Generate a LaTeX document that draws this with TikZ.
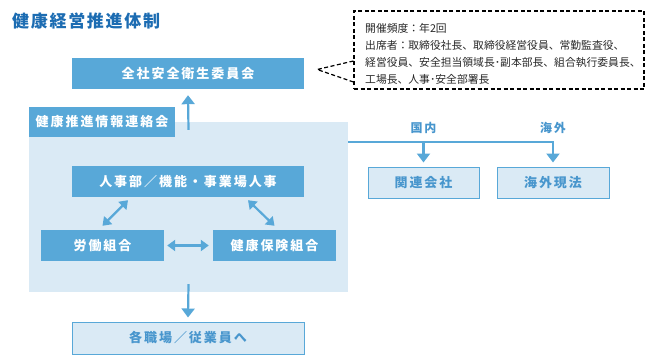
\documentclass[tikz,border=0pt]{standalone}
\usepackage{fontspec}
\setmainfont{Noto Sans CJK JP}
\newfontfamily\boxfont{Noto Sans CJK JP}[LetterSpace=15]
\newfontfamily\titlefont{Noto Sans CJK JP}[LetterSpace=10]
\usetikzlibrary{arrows.meta,calc,positioning}
\definecolor{boxblue}{RGB}{88,168,216}
\definecolor{paleblue}{RGB}{218,234,245}
\definecolor{titleblue}{RGB}{28,108,178}
\definecolor{textblue}{RGB}{72,150,205}
\definecolor{notegray}{RGB}{40,40,40}

\begin{document}
\begin{tikzpicture}[
      x=1pt, y=-1pt,
      heading/.style={anchor=west, inner sep=0pt, text=titleblue,
        font=\titlefont\bfseries\fontsize{17}{17}\selectfont},
      org/.style={fill=boxblue, text=white, inner sep=0pt,
        minimum height=31pt,
        font=\boxfont\bfseries\fontsize{13}{13}\selectfont},
      unit/.style={org, fill=paleblue, draw=boxblue, line width=1pt,
        text=textblue},
      region/.style={fill=paleblue, inner sep=0pt},
      tag/.style={inner sep=1pt, text=textblue,
        font=\boxfont\bfseries\fontsize{12}{12}\selectfont},
      dashline/.style={draw=black, line width=1.2pt,
        dash pattern=on 4pt off 2.5pt},
      note/.style={dashline, inner sep=0pt,
        minimum width=290pt, minimum height=78pt},
      notetext/.style={anchor=north west, inner sep=0pt, align=left,
        text=notegray, font=\fontsize{10.8}{17}\selectfont},
      arr/.style={draw=boxblue, line width=2.2pt,
        -{Triangle[width=13pt,length=9pt]}},
      both/.style={draw=boxblue, line width=2.2pt,
        {Triangle[width=11pt,length=8pt]}-{Triangle[width=11pt,length=8pt]}}
    ]
    \useasboundingbox (0,0) rectangle (645,356);

    \node[heading] (title) at (12,21) {健康経営推進体制};

    % committee and liaison group
    \node[org, minimum width=232pt] (committee) at (188,73.5)
      {全社安全衛生委員会};
    \node[region, minimum width=319pt, minimum height=170pt] (liaison)
      at (188.5,207) {};
    \node[org, minimum width=146pt, minimum height=30pt] (liaisontag)
      at (102,122) {健康推進情報連絡会};
    \node[org, minimum width=232pt] (hr) at (188,181.5)
      {人事部／機能・事業場人事};
    \node[org, minimum width=123pt] (union) at (102.5,245.5) {労働組合};
    \node[org, minimum width=123pt] (insurer) at (274.5,245.5)
      {健康保険組合};
    \node[unit, minimum width=232pt, minimum height=32pt] (workplace)
      at (188,338) {各職場／従業員へ};
    \node[unit, minimum width=111pt] (domestic) at (423.5,182.5)
      {関連会社};
    \node[unit, minimum width=112pt] (abroad) at (553,182.5) {海外現法};

    % attendance note
    \node[note] (attend) at (499,50) {};
    \node[notetext] (attendtext) at (365,23)
      {開催頻度：年2回\\
       出席者：取締役社長、取締役経営役員、常勤監査役、\\
       経営役員、安全担当領域長･副本部長、組合執行委員長、\\
       工場長、人事･安全部署長};
    \coordinate (notetip) at ([xshift=13pt,yshift=4pt]committee.east);
    \draw[dashline] ([yshift=-11pt]attend.west) -- (notetip)
      -- ([yshift=-32pt]attend.west);

    \draw[arr] ([yshift=-8pt]liaison.north) -- ([yshift=-6pt]committee.south);
    \draw[arr] ([yshift=8pt]liaison.south) -- ([yshift=4pt]workplace.north);
    \draw[both] ([xshift=-60pt,yshift=-3pt]hr.south)
      -- ([yshift=4pt]union.north);
    \draw[both] ([xshift=60pt,yshift=-3pt]hr.south)
      -- ([yshift=4pt]insurer.north);
    \draw[both] ([xshift=3pt]union.east) -- ([xshift=-4pt]insurer.west);

    % group companies
    \coordinate (branch) at ([yshift=-20pt]liaison.north east);
    \draw[arr] (branch) -| ([yshift=4pt]abroad.north);
    \draw[arr] (branch -| domestic.north) -- ([yshift=4pt]domestic.north);
    \node[tag] (domestictag) at ($(branch -| domestic.north)+(0,-14)$) {国内};
    \node[tag] (abroadtag) at ($(branch -| abroad.north)+(0,-14)$) {海外};
  \end{tikzpicture}
\end{document}
